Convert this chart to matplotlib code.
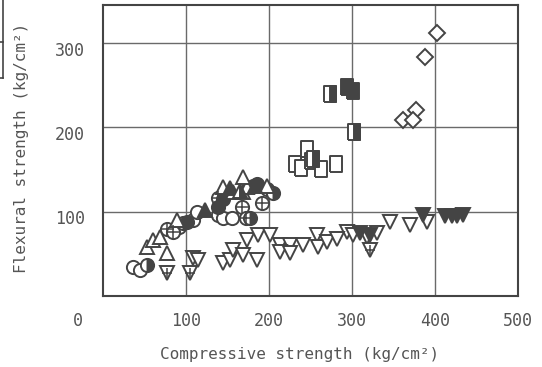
import matplotlib
matplotlib.use("Agg")
import matplotlib.pyplot as plt
from matplotlib.lines import Line2D

# ---- data (compressive, flexural) in kg/cm2 ----
circle_open_x = [36, 45, 85, 108, 139, 145, 155, 113, 92]
circle_open_y = [34, 31, 78, 90, 96, 93, 93, 100, 82]
circle_half_x = [53, 96, 177, 198, 205]
circle_half_y = [37, 87, 92, 127, 122]
circle_fill_x = [101, 181, 186, 145, 138]
circle_fill_y = [88, 131, 133, 115, 106]
circle_cross_x = [77, 84, 138, 167, 192, 172]
circle_cross_y = [79, 76, 116, 106, 110, 92]

tri_up_open_x = [53, 60, 69, 77, 89, 145, 157, 169, 173, 169, 198]
tri_up_open_y = [58, 66, 70, 51, 90, 129, 123, 123, 129, 141, 131]
tri_up_fill_x = [123, 183, 153]
tri_up_fill_y = [102, 131, 128]
tri_up_half_x = [165]
tri_up_half_y = [125]

tri_dn_open_x = [108, 114, 145, 153, 157, 169, 173, 186, 187, 201, 213, 225, 213,
                 225, 241, 258, 259, 270, 294, 301, 318, 330, 346, 370, 390, 282]
tri_dn_open_y = [45, 43, 39, 43, 54, 49, 66, 43, 72, 72, 60, 60, 52,
                 51, 60, 72, 58, 64, 76, 72, 70, 75, 88, 84, 88, 68]
tri_dn_cross_x = [77, 105, 322]
tri_dn_cross_y = [27, 27, 54]
tri_dn_fill_x = [310, 322, 386, 412, 420, 427, 434]
tri_dn_fill_y = [75, 72, 96, 95, 95, 95, 96]

sq_open_x = [231, 239, 246, 251, 263, 281]
sq_open_y = [157, 152, 174, 160, 151, 157]
sq_half_x = [253, 273, 302]
sq_half_y = [163, 240, 194]
sq_fill_x = [294, 301]
sq_fill_y = [248, 243]

dia_open_x = [402, 388, 377, 361, 373]
dia_open_y = [312, 283, 221, 209, 209]

x_ticks = [0, 100, 200, 300, 400, 500]
y_ticks = [100, 200, 300]
x_label = "Compressive strength (kg/cm\u00b2)"
y_label = "Flexural strength (kg/cm\u00b2)"

INK = "#444444"
TXT = "#555555"
GRID = "#6a6a6a"
plt.rcParams['font.family'] = ['DejaVu Sans Mono']

fig = plt.figure(figsize=(5.42, 3.67), dpi=100)
ax = fig.add_axes([103/542, 1-296/367, (518-103)/542, (296-5)/367])
ax.set_xlim(0, 500)
ax.set_ylim(0, 345)

for v in [100, 200, 300, 400]:
    ax.axvline(v, color=GRID, lw=1.0, zorder=1)
for v in [100, 200, 300]:
    ax.axhline(v, color=GRID, lw=1.0, zorder=1)
for s in ax.spines.values():
    s.set_color(INK)
    s.set_linewidth(1.5)
ax.set_xticks([])
ax.set_yticks([])

ms = 9.5
lw = 1.4
common = dict(ls='none', mec=INK, mew=lw, zorder=3)

# tall rectangle markers (full and right half)
rect = [(-0.75, -1), (0.75, -1), (0.75, 1), (-0.75, 1), (-0.75, -1)]
rect_half = [(0, -1), (0.75, -1), (0.75, 1), (0, 1), (0, -1)]

ax.plot(circle_open_x, circle_open_y, marker='o', ms=ms, mfc='white', **common)
ax.plot(circle_cross_x, circle_cross_y, marker='o', ms=ms, mfc='white', **common)
ax.plot(circle_cross_x, circle_cross_y, marker='+', ms=ms, ls='none', mec=INK, mew=1.1, zorder=4)
ax.plot(circle_half_x, circle_half_y, marker='o', ms=ms, mfc=INK, fillstyle='right',
        markerfacecoloralt='white', **common)
ax.plot(circle_fill_x, circle_fill_y, marker='o', ms=ms, mfc=INK, **common)

ax.plot(tri_up_open_x, tri_up_open_y, marker='^', ms=ms+1, mfc='white', **common)
ax.plot(tri_up_fill_x, tri_up_fill_y, marker='^', ms=ms+1, mfc=INK, **common)
ax.plot(tri_up_half_x, tri_up_half_y, marker='^', ms=ms+1, mfc=INK, fillstyle='right',
        markerfacecoloralt='white', **common)

ax.plot(tri_dn_open_x, tri_dn_open_y, marker='v', ms=ms+1, mfc='white', **common)
ax.plot(tri_dn_cross_x, tri_dn_cross_y, marker='v', ms=ms+1, mfc='white', **common)
ax.plot(tri_dn_cross_x, tri_dn_cross_y, marker='+', ms=ms-2, ls='none', mec=INK, mew=1.1, zorder=4)
ax.plot(tri_dn_fill_x, tri_dn_fill_y, marker='v', ms=ms+1, mfc=INK, **common)

sq_ms = ms + 2
ax.plot(sq_open_x, sq_open_y, marker=rect, ms=sq_ms, mfc='white', **common)
ax.plot(sq_half_x, sq_half_y, marker=rect, ms=sq_ms, mfc='white', **common)
ax.plot(sq_half_x, sq_half_y, marker=rect_half, ms=sq_ms, mfc=INK, ls='none', mec=INK,
        mew=lw, zorder=3.5)
ax.plot(sq_fill_x, sq_fill_y, marker=rect, ms=sq_ms, mfc=INK, **common)

ax.plot(dia_open_x, dia_open_y, marker='D', ms=ms-1, mfc='white', **common)

# tick labels
tfs = 12
for v in x_ticks:
    xpos = v if v != 0 else -30
    ax.text(xpos, -30, str(v), ha='center', va='center', fontsize=tfs, color=TXT, clip_on=False)
for v in y_ticks:
    ax.text(-40, v - 9, str(v), ha='center', va='center', fontsize=tfs, color=TXT, clip_on=False)

fig.text(300/542, 1-355/367, x_label, ha='center', va='center', fontsize=11.5, color=TXT)
fig.text(22/542, 1-148/367, y_label, ha='center', va='center', rotation=90, fontsize=11.5, color=TXT)

# partial legend box cut off at top-left
fig.add_artist(Line2D([3/542, 3/542], [1, 1-78/367], transform=fig.transFigure, color=INK, lw=1.2))
fig.add_artist(Line2D([0, 3/542], [1-42/367, 1-42/367], transform=fig.transFigure, color=INK, lw=1.2))
fig.add_artist(Line2D([0, 3/542], [1-78/367, 1-78/367], transform=fig.transFigure, color=INK, lw=1.2))

fig.savefig("out.png", dpi=100)
